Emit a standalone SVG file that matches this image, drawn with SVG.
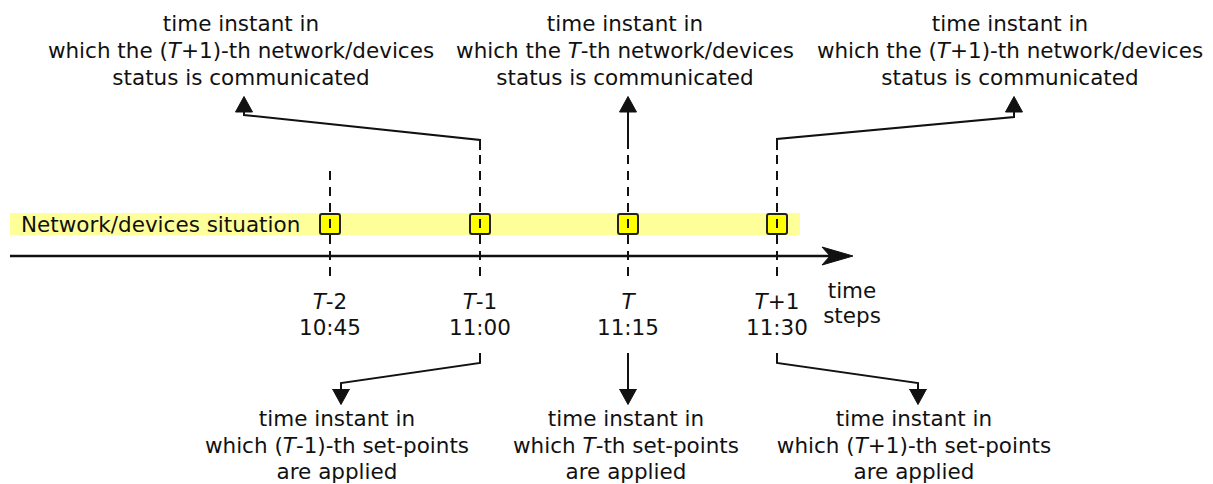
<svg xmlns="http://www.w3.org/2000/svg" width="1213" height="484" viewBox="0 0 1213 484">
<style>
text{font-family:"DejaVu Sans","Liberation Sans",sans-serif;font-size:21.5px;fill:#111;text-anchor:middle}
.i{font-style:italic}
.dash{stroke:#111;stroke-width:2;stroke-dasharray:9 7;fill:none}
.con{stroke:#111;stroke-width:2;fill:none;marker-end:url(#ah)}
.box{fill:#ffff00;stroke:#222;stroke-width:2}
</style>
<defs>
<marker id="ah" markerUnits="userSpaceOnUse" viewBox="0 0 17 19" refX="0.5" refY="9.5" markerWidth="17" markerHeight="19" orient="auto">
<path d="M0.5,1 L16,9.5 L0.5,18 z" fill="#111" stroke="#111" stroke-width="1" stroke-linejoin="round"/>
</marker>
</defs>
<rect id="band" x="10" y="213" width="790" height="22" fill="#ffff99"/>
<text x="21" y="232" style="text-anchor:start">Network/devices situation</text>
<g id="timeline">
<line x1="10" y1="256" x2="832" y2="256" stroke="#111" stroke-width="2.5"/>
<path d="M853,256 L822,247 L830,256 L822,265 z" fill="#111" stroke="#111" stroke-width="1" stroke-linejoin="round"/>
</g>
<g id="tick-T-2">
<rect class="box" x="320" y="214" width="20" height="20" rx="2"/>
<line class="dash" x1="330" y1="171" x2="330" y2="277"/>
<text x="330" y="309"><tspan class="i">T</tspan>-2</text>
<text x="330" y="335">10:45</text>
</g>
<g id="tick-T-1">
<rect class="box" x="470" y="214" width="20" height="20" rx="2"/>
<line class="dash" x1="480" y1="155" x2="480" y2="277"/>
<text x="480" y="309"><tspan class="i">T</tspan>-1</text>
<text x="480" y="335">11:00</text>
</g>
<g id="tick-T">
<rect class="box" x="618" y="214" width="20" height="20" rx="2"/>
<line class="dash" x1="628" y1="155" x2="628" y2="277"/>
<text x="628" y="309" class="i">T</text>
<text x="628" y="335">11:15</text>
</g>
<g id="tick-T+1">
<rect class="box" x="767" y="214" width="20" height="20" rx="2"/>
<line class="dash" x1="777" y1="155" x2="777" y2="277"/>
<text x="777" y="309"><tspan class="i">T</tspan>+1</text>
<text x="777" y="335">11:30</text>
</g>
<g id="axis-label">
<text x="852" y="298">time</text>
<text x="852" y="323">steps</text>
</g>
<g id="connectors">
<path class="con" d="M480,150 V140 L244,115 V112"/>
<path class="con" d="M628,149 V112"/>
<path class="con" d="M777,150 V139 L1014,117 V112"/>
<path class="con" d="M480,353 V363 L341,383 V389"/>
<path class="con" d="M628,353 V389"/>
<path class="con" d="M777,353 V363 L918,383 V389"/>
</g>
<g id="label-top-left">
<text x="241" y="31">time instant in</text>
<text x="241" y="58">which the (<tspan class="i">T</tspan>+1)-th network/devices</text>
<text x="241" y="85">status is communicated</text>
</g>
<g id="label-top-mid">
<text x="625" y="31">time instant in</text>
<text x="625" y="58">which the <tspan class="i">T</tspan>-th network/devices</text>
<text x="625" y="85">status is communicated</text>
</g>
<g id="label-top-right">
<text x="1010" y="31">time instant in</text>
<text x="1010" y="58">which the (<tspan class="i">T</tspan>+1)-th network/devices</text>
<text x="1010" y="85">status is communicated</text>
</g>
<g id="label-bot-left">
<text x="337" y="426">time instant in</text>
<text x="337" y="453">which (<tspan class="i">T</tspan>-1)-th set-points</text>
<text x="337" y="479">are applied</text>
</g>
<g id="label-bot-mid">
<text x="626" y="426">time instant in</text>
<text x="626" y="453">which <tspan class="i">T</tspan>-th set-points</text>
<text x="626" y="479">are applied</text>
</g>
<g id="label-bot-right">
<text x="914" y="426">time instant in</text>
<text x="914" y="453">which (<tspan class="i">T</tspan>+1)-th set-points</text>
<text x="914" y="479">are applied</text>
</g>
</svg>
